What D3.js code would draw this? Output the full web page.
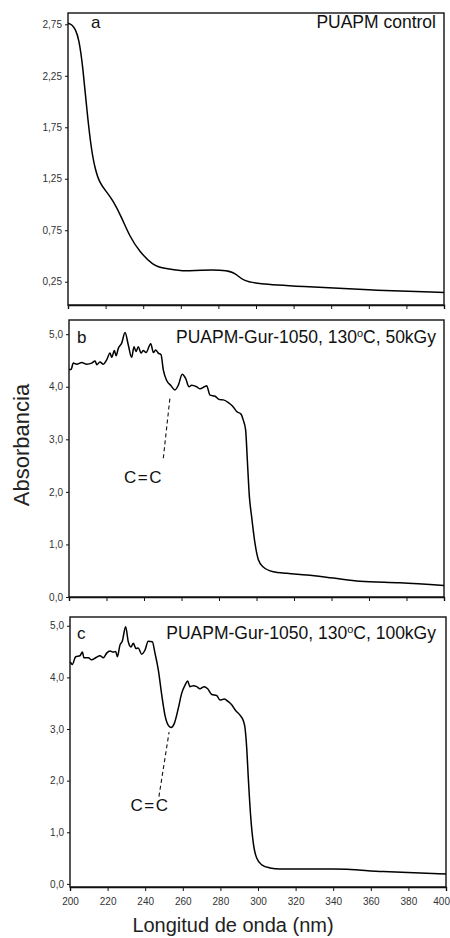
<!DOCTYPE html>
<html>
<head>
<meta charset="utf-8">
<script src="https://cdn.jsdelivr.net/npm/d3@7"></script>
<style>
  body { margin: 0; background: #fff; }
  svg { display: block; font-family: "Liberation Sans", Arial, Helvetica, sans-serif; }
  .tick text { fill: #333; font-size: 10px; }
  .tick line, .domain { stroke: #111; }
</style>
</head>
<body>
<svg id="chart"></svg>
<script>
const width = 450, height = 938;

// wavelength (nm), absorbance
const controlSpectrum = [
  [200, 2.76], [202, 2.75], [204, 2.70], [205.8, 2.61], [207.9, 2.34], [210, 1.92],
  [212.4, 1.53], [214.5, 1.34], [216.8, 1.21], [220.4, 1.125], [223.9, 1.04],
  [228.4, 0.88], [232.8, 0.69], [238.1, 0.54], [245.2, 0.41], [250.6, 0.38],
  [261.2, 0.35], [270, 0.365], [286, 0.365], [289.7, 0.32], [293.2, 0.26],
  [300.3, 0.23], [323.5, 0.205], [359, 0.17], [400, 0.145]
];

const spectrum50kGy = [
  [200, 4.33], [201.1, 4.33], [202.3, 4.45], [204.1, 4.43], [206.8, 4.46], [209.4, 4.43],
  [212.1, 4.45], [213.9, 4.49], [214.8, 4.42], [216.5, 4.47], [218.3, 4.43],
  [220.1, 4.51], [221.9, 4.64], [222.8, 4.56], [224.2, 4.69], [225.1, 4.59],
  [226.3, 4.73], [228.1, 4.83], [229.9, 5.03], [231.6, 4.80], [233.4, 4.56],
  [234.7, 4.76], [235.7, 4.67], [237, 4.76], [238.4, 4.64], [239.6, 4.69],
  [241.1, 4.65], [243.6, 4.82], [245, 4.65], [246.2, 4.70], [247.6, 4.64],
  [249.1, 4.61], [250.3, 4.32], [252.1, 4.12], [254.4, 4.02], [256.5, 3.94],
  [258.3, 4.03], [260.4, 4.24], [262.2, 4.16], [264, 4.00], [265.4, 4.03],
  [268.1, 4.00], [269.9, 3.96], [272.2, 4.00], [273.4, 4.02], [275.2, 3.84],
  [277.9, 3.82], [280, 3.76], [282.3, 3.75], [285, 3.70], [287.3, 3.63],
  [289.4, 3.53], [291.7, 3.48], [292.9, 3.37], [294.2, 3.18], [295.1, 2.61],
  [296.2, 1.91], [297.4, 1.53], [299.2, 1.02], [301, 0.71], [303.6, 0.57],
  [309, 0.48], [316.1, 0.45], [326.8, 0.42], [341, 0.36], [355.2, 0.30],
  [376.5, 0.27], [400, 0.22]
];

const spectrum100kGy = [
  [200, 4.30], [200.5, 4.28], [201.2, 4.25], [203, 4.40], [205.3, 4.42], [206.6, 4.49],
  [207.4, 4.38], [209.7, 4.38], [211.5, 4.34], [213.7, 4.38], [216, 4.42],
  [217.7, 4.38], [219.5, 4.47], [221.3, 4.51], [223, 4.49], [224.3, 4.50],
  [225.2, 4.40], [226.6, 4.63], [227.8, 4.70], [229.6, 4.98], [231, 4.69],
  [232.4, 4.59], [233.7, 4.66], [235.1, 4.56], [236.3, 4.57], [238.1, 4.45],
  [239.9, 4.53], [241.6, 4.70], [243.8, 4.69], [245.2, 4.47], [247, 4.14],
  [248.8, 3.66], [250.5, 3.27], [252.3, 3.07], [253.7, 3.03], [255.5, 3.11],
  [257.6, 3.40], [259.4, 3.69], [261.2, 3.85], [262.6, 3.93], [263.8, 3.82],
  [265.6, 3.84], [267.4, 3.82], [269.1, 3.78], [271.4, 3.82], [273.2, 3.78],
  [275.4, 3.67], [278, 3.65], [279.8, 3.56], [282.1, 3.58], [284.2, 3.53],
  [286, 3.47], [288.1, 3.36], [290.4, 3.27], [292.2, 3.16], [293.1, 3.02],
  [294, 2.63], [294.8, 2.08], [296.1, 1.31], [297.5, 0.79], [299.3, 0.50],
  [302, 0.37], [306.4, 0.31], [311.7, 0.29], [340, 0.29], [366.6, 0.24], [400, 0.19]
];

const xTicks = [200, 220, 240, 260, 280, 300, 320, 340, 360, 380, 400];
const yTicksControl = [0.25, 0.75, 1.25, 1.75, 2.25, 2.75];
const yTicksIrradiated = [0, 1, 2, 3, 4, 5];

const panelLetters = ["a", "b", "c"];
const panelTitles = [
  ["PUAPM control"],
  ["PUAPM-Gur-1050, 130", "o", "C, 50kGy"],
  ["PUAPM-Gur-1050, 130", "o", "C, 100kGy"]
];

// C=C band marker: dashed line [from, to] and label spot, in data units
const bandMarks = [
  null,
  { line: [[250.3, 2.64], [253.9, 3.81]], label: [239.7, 2.17] },
  { line: [[247.3, 1.69], [252.7, 2.94]], label: [242.6, 1.42] }
];

const loc = d3.formatLocale({ decimal: ",", thousands: ".", grouping: [3], currency: ["", ""] });

// layout per panel (pixels)
const panels = [
  { data: controlSpectrum, yTicks: yTicksControl, fmt: loc.format(".2f"),
    x0: 68, x1: 444, top: 13, bottom: 305, yDomain: [0.024, 2.86], titleY: 28, showX: false },
  { data: spectrum50kGy, yTicks: yTicksIrradiated, fmt: loc.format(".1f"),
    x0: 69, x1: 444, top: 320, bottom: 597, yDomain: [0, 5.27], titleY: 343, showX: false },
  { data: spectrum100kGy, yTicks: yTicksIrradiated, fmt: loc.format(".1f"),
    x0: 70, x1: 446, top: 617, bottom: 887, yDomain: [-0.06, 5.17], titleY: 639, showX: true }
];

const svg = d3.select("#chart")
              .attr("width", width)
              .attr("height", height);

panels.forEach((p, i) => {
  const x = d3.scaleLinear().domain([200, 400]).range([p.x0, p.x1]);
  const y = d3.scaleLinear().domain(p.yDomain).range([p.bottom, p.top]);
  const g = svg.append("g");

  // frame
  g.append("rect")
   .attr("x", p.x0).attr("y", p.top)
   .attr("width", p.x1 - p.x0).attr("height", p.bottom - p.top)
   .attr("fill", "none")
   .attr("stroke", "#111")
   .attr("stroke-width", 1.4);

  const xAxis = d3.axisBottom(x).tickValues(xTicks).tickSize(4).tickPadding(7)
                  .tickFormat(p.showX ? d3.format("d") : "");
  g.append("g")
   .attr("transform", `translate(0,${p.bottom})`)
   .call(xAxis)
   .call(a => a.select(".domain").attr("stroke-width", 1.4))
   .call(a => a.selectAll(".tick text").attr("font-size", 10.5))
   // last label sits at the page edge: keep it inside
   .call(a => a.selectAll(".tick text").filter(d => d === 400)
               .attr("text-anchor", "end").attr("x", 3.5));

  const yAxis = d3.axisLeft(y).tickValues(p.yTicks).tickSize(3).tickPadding(3).tickFormat(p.fmt);
  g.append("g")
   .attr("transform", `translate(${p.x0},0)`)
   .call(yAxis)
   .call(a => a.select(".domain").remove());

  const line = d3.line()
                 .x(d => x(d[0]))
                 .y(d => y(d[1]))
                 .curve(i === 0 ? d3.curveBasis : d3.curveMonotoneX);

  g.append("path")
   .datum(p.data)
   .attr("d", line)
   .attr("fill", "none")
   .attr("stroke", "#000")
   .attr("stroke-width", 1.5)
   .attr("stroke-linejoin", "round");

  // panel letter
  g.append("text")
   .attr("x", i === 0 ? 91 : 77)
   .attr("y", p.titleY)
   .attr("font-size", 17)
   .attr("fill", "#111")
   .text(panelLetters[i]);

  // title, with raised "o" for degrees
  const t = g.append("text")
             .attr("x", 436)
             .attr("y", p.titleY)
             .attr("text-anchor", "end")
             .attr("font-size", 17.5)
             .attr("fill", "#111");
  const parts = panelTitles[i];
  t.append("tspan").text(parts[0]);
  if (parts.length > 1) {
    t.append("tspan").attr("dy", -6).attr("font-size", 11).text(parts[1]);
    t.append("tspan").attr("dy", 6).text(parts[2]);
  }

  const mark = bandMarks[i];
  if (mark) {
    g.append("line")
     .attr("x1", x(mark.line[0][0])).attr("y1", y(mark.line[0][1]))
     .attr("x2", x(mark.line[1][0])).attr("y2", y(mark.line[1][1]))
     .attr("stroke", "#111")
     .attr("stroke-width", 1.1)
     .attr("stroke-dasharray", "4,3");
    g.append("text")
     .attr("x", x(mark.label[0]))
     .attr("y", y(mark.label[1]))
     .attr("text-anchor", "middle")
     .attr("font-size", 17)
     .attr("letter-spacing", 1.5)
     .attr("fill", "#111")
     .text("C=C");
  }
});

svg.append("text")
   .attr("transform", "translate(28.5,445) rotate(-90)")
   .attr("text-anchor", "middle")
   .attr("font-size", 22)
   .attr("fill", "#222")
   .text("Absorbancia");

svg.append("text")
   .attr("x", 233)
   .attr("y", 932)
   .attr("text-anchor", "middle")
   .attr("font-size", 20)
   .attr("fill", "#222")
   .text("Longitud de onda (nm)");
</script>
</body>
</html>
